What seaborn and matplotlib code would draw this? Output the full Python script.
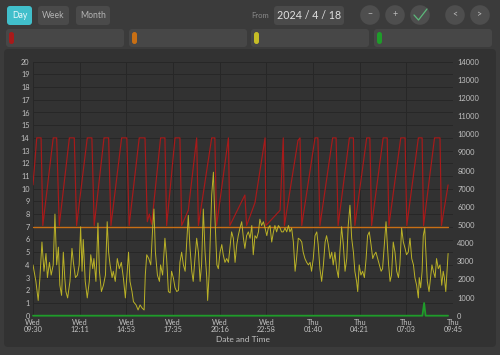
"""Day view of four sensor channels, dark dashboard style."""

import pandas as pd
import matplotlib.pyplot as plt
import seaborn as sns
from matplotlib.patches import FancyBboxPatch, Circle
from matplotlib.lines import Line2D
from matplotlib.transforms import IdentityTransform

# ── DATA ──────────────────────────────────────────────────────────────────────

START = pd.Timestamp("2024-04-17 09:30")
END = pd.Timestamp("2024-04-18 09:45")

# red channel (left axis), minutes after START
red_min = [0, 13, 28, 34, 70, 82, 91, 126, 143, 151, 188, 204, 212,
           246, 262, 270, 307, 325, 333, 368, 388, 396, 403, 411,
           442, 457, 463, 492, 509, 515, 538, 567, 573, 619, 630, 636,
           677, 682, 734, 740, 769, 804, 807, 856, 867, 871, 918, 925, 931,
           977, 987, 994, 1038, 1050, 1057, 1096, 1110, 1115,
           1156, 1167, 1173, 1213, 1227, 1233, 1274, 1289, 1295,
           1335, 1348, 1353, 1391, 1410, 1415, 1438]
red_val = [10.3, 14, 14, 7.1, 14, 14, 7.1, 14, 14, 7.1, 14, 14, 7.1,
           14, 14, 7.1, 14, 14, 7.1, 14, 14, 7.4, 8.0, 7.2,
           14, 14, 7.1, 14, 14, 7.1, 8.3, 14, 7.1, 14, 14, 7.1,
           14, 7.1, 9.5, 7.1, 8.9, 14, 7.1, 8.3, 14, 7.1, 13.8, 14, 7.1,
           14, 14, 7.1, 14, 14, 7.1, 14, 14, 7.1,
           14, 14, 7.1, 14, 14, 7.1, 14, 14, 7.1,
           14, 14, 7.1, 14, 14, 7.1, 10.3]

# yellow channel (left axis)
yel_min = [0, 10, 18, 24, 31, 38, 45, 50, 57, 63, 70, 76, 82, 88, 93, 99,
           105, 110, 114, 120, 128, 135, 140, 147, 154, 160, 165, 170, 174,
           181, 188, 195, 200, 207, 211, 218, 225, 230, 237, 244, 251, 257,
           262, 267, 274, 278, 285, 292, 299, 306, 313, 320, 327, 331, 336,
           343, 348, 357, 364, 371, 378, 385, 389, 394, 401, 408, 415, 419,
           424, 431, 438, 442, 449, 457, 463, 469, 475, 480, 486, 492, 498,
           504, 509, 515, 521, 527, 532, 538, 544, 550, 555, 561, 567, 573,
           579, 584, 590, 596, 602, 605, 610, 614, 619, 625, 628, 633, 637,
           642, 648, 654, 659, 665, 671, 677, 682, 688, 694, 700, 706, 711,
           717, 723, 729, 734, 740, 746, 752, 758, 763, 769, 775, 781, 786,
           792, 798, 804, 810, 815, 821, 827, 833, 838, 844, 850, 856, 861,
           867, 873, 879, 885, 890, 896, 902, 908, 913, 919, 925, 931, 936,
           942, 948, 954, 960, 965, 971, 977, 983, 988, 994, 1000, 1006, 1012,
           1017, 1023, 1029, 1035, 1040, 1046, 1052, 1058, 1063, 1069, 1075,
           1081, 1087, 1092, 1098, 1104, 1110, 1115, 1121, 1125, 1130, 1136,
           1142, 1148, 1154, 1159, 1165, 1171, 1177, 1182, 1188, 1194, 1200,
           1206, 1211, 1217, 1223, 1227, 1232, 1237, 1242, 1248, 1254, 1260,
           1266, 1271, 1277, 1283, 1289, 1294, 1300, 1306, 1312, 1318, 1323,
           1329, 1335, 1338, 1343, 1348, 1352, 1357, 1361, 1366, 1372, 1378,
           1382, 1387, 1393, 1398, 1404, 1410, 1416, 1421, 1425, 1430, 1438]
yel_val = [4.0, 2.7, 1.2, 3.0, 5.8, 3.5, 4.9, 3.0, 4.2, 3.2, 4.0, 8.0, 4.0,
           5.4, 2.4, 1.6, 5.0, 3.0, 1.9, 1.4, 2.7, 5.3, 4.2, 3.0, 3.2, 4.0,
           7.0, 3.5, 6.0, 2.7, 1.4, 2.7, 4.8, 3.7, 4.5, 2.7, 7.3, 3.5, 1.9,
           2.4, 3.2, 7.4, 5.0, 4.0, 3.0, 3.5, 2.7, 4.5, 3.7, 4.2, 3.0, 1.4,
           3.7, 5.0, 2.7, 1.9, 1.1, 0.85, 0.45, 0.85, 0.6, 0.45, 3.2, 4.8,
           4.5, 4.0, 7.1, 8.4, 5.0, 3.2, 2.7, 4.0, 3.2, 6.1, 4.5, 1.9, 1.8,
           3.5, 3.0, 2.2, 1.9, 2.0, 4.2, 5.0, 4.0, 3.5, 5.6, 7.9, 5.3, 3.5,
           2.7, 4.5, 6.1, 5.0, 2.7, 4.0, 8.4, 5.0, 3.0, 1.2, 3.2, 6.1, 9.5,
           11.3, 9.0, 6.3, 4.0, 3.7, 5.0, 5.6, 4.8, 4.2, 4.5, 4.2, 5.3, 6.6,
           6.1, 4.2, 5.6, 6.3, 6.9, 7.4, 6.1, 5.3, 6.3, 6.6, 6.1, 7.1, 4.8,
           6.3, 6.1, 6.6, 7.6, 7.1, 7.4, 6.9, 6.3, 6.9, 7.1, 5.8, 6.6, 7.1,
           6.6, 7.1, 6.9, 6.6, 6.6, 6.9, 6.6, 7.1, 6.6, 6.9, 5.8, 3.5, 4.5,
           6.1, 6.0, 5.8, 5.0, 4.5, 4.2, 4.0, 4.2, 3.5, 4.5, 6.3, 6.6, 5.6,
           3.7, 2.7, 4.0, 5.8, 6.3, 5.6, 4.5, 5.0, 4.0, 5.0, 3.7, 3.0, 5.0,
           7.0, 5.6, 3.5, 4.5, 7.1, 8.7, 6.1, 5.0, 3.5, 2.7, 1.9, 4.0, 3.2,
           3.5, 3.0, 4.5, 6.3, 6.6, 5.6, 4.5, 4.8, 5.0, 4.5, 4.0, 3.5, 3.7,
           5.6, 7.4, 5.8, 4.0, 2.7, 3.2, 5.8, 5.0, 3.5, 3.0, 4.0, 6.9, 5.8,
           5.3, 4.8, 5.0, 6.1, 4.5, 4.0, 3.0, 2.4, 1.4, 3.0, 2.2, 3.5, 6.3,
           6.9, 5.0, 2.7, 1.9, 3.2, 4.0, 3.5, 3.0, 4.5, 3.7, 4.0, 2.4, 3.5,
           3.0, 1.9, 4.9]

# orange channel: flat
org_min = [0, 1438]
org_val = [6.95, 6.95]

# green channel: flat with one short pulse
grn_min = [0, 1349, 1355, 1360, 1438]
grn_val = [0, 0, 1.0, 0, 0]

left_ticks = list(range(0, 21))
right_ticks = list(range(0, 14001, 1000))
buttons = ["Day", "Week", "Month"]
date_text = "2024 / 4 / 18"

# ── STYLE ─────────────────────────────────────────────────────────────────────

W, H = 500, 355
BG = '#3b3b3b'
PANEL = '#323232'
BOX = '#474747'
TEXT = '#c2c2c2'
GRID = '#272727'
RED, ORANGE, YELLOW, GREEN = '#a81a1a', '#c86f14', '#c6bd26', '#1f9c2a'

sns.set_theme(style='dark')
plt.rcParams['font.family'] = ['Lato', 'DejaVu Sans']


def px_rect(fig, x0, y0, x1, y1, color, r=3, z=0):
    """Rounded box in pixels, measured from the top-left corner."""
    fig.add_artist(FancyBboxPatch(
        (x0, H - y1), x1 - x0, y1 - y0,
        boxstyle=f'round,pad=0,rounding_size={r}',
        transform=IdentityTransform(), fc=color, ec='none', zorder=z))


def px_text(fig, x, y, s, **kw):
    fig.text(x / W, 1 - y / H, s, ha='center', va='center', **kw)


def to_times(mins):
    return START + pd.to_timedelta(mins, unit='min')


# ── FIGURE ────────────────────────────────────────────────────────────────────

fig = plt.figure(figsize=(W / 100, H / 100), dpi=100, facecolor=BG)

# top controls
btn_x = [(7, 32), (38, 69), (76, 110)]
for name, (x0, x1) in zip(buttons, btn_x):
    active = name == 'Day'
    px_rect(fig, x0, 6, x1, 25, '#41bfcb' if active else '#4a4a4a')
    px_text(fig, (x0 + x1) / 2, 15.5, name, fontsize=6.2,
            color='#e8f8fa' if active else '#b4b4b4')

px_text(fig, 260, 15.5, 'From', fontsize=5.5, color='#8a8a8a')
px_rect(fig, 274, 6, 344, 25, '#4a4a4a')
px_text(fig, 309, 15.5, date_text, fontsize=7.7, color='#e0e0e0')

for cx, glyph in zip([370, 395, 420, 455, 480], ['−', '+', '', '<', '>']):
    fig.add_artist(Circle((cx, H - 15), 9.8, transform=IdentityTransform(),
                          fc='#4e4e4e', ec='none'))
    if glyph:
        px_text(fig, cx, 15, glyph, fontsize=6.3, color='#bdbdbd')
fig.add_artist(Line2D([414, 418.5, 427], [H - 15, H - 20, H - 9],
                      transform=IdentityTransform(), color='#5cb87a', lw=0.9))

# legend strip
for (x0, x1), col in zip([(6, 124), (129, 247), (251, 369), (374, 492)],
                         [RED, ORANGE, YELLOW, GREEN]):
    px_rect(fig, x0, 29, x1, 47, BOX)
    px_rect(fig, x0 + 3, 32, x0 + 8, 44, col, r=2.5)

# chart panel
px_rect(fig, 4, 49, 496, 347, PANEL, r=4, z=-1)

ax = fig.add_axes([33 / W, 1 - 315.7 / H, 420 / W, 254 / H])
ax.set_facecolor(PANEL)

sns.lineplot(x=to_times(red_min), y=red_val, ax=ax, color=RED, lw=0.85)
sns.lineplot(x=to_times(org_min), y=org_val, ax=ax, color=ORANGE, lw=1.0)
sns.lineplot(x=to_times(yel_min), y=yel_val, ax=ax, color=YELLOW, lw=0.7,
             alpha=0.92)
sns.lineplot(x=to_times(grn_min), y=grn_val, ax=ax, color=GREEN, lw=1.3)
ax.lines[-1].set_clip_on(False)

tick_times = pd.date_range(START, END, periods=10)
ax.set_xlim(START, END)
ax.set_xticks(tick_times)
ax.set_xticklabels([t.strftime('%a\n%H:%M') for t in tick_times],
                   linespacing=1.05)
ax.set_ylim(0, 20)
ax.set_yticks(left_ticks)
ax.set_xlabel('Date and Time', fontsize=6, color=TEXT, labelpad=2)
ax.set_ylabel('')
ax.tick_params(axis='both', length=0, labelsize=5.3, colors=TEXT, pad=2.5)
ax.grid(True, color=GRID, lw=0.7)
for s in ax.spines.values():
    s.set_visible(False)

ax2 = ax.twinx()
ax2.set_ylim(0, 14000)
ax2.set_yticks(right_ticks)
ax2.set_yticklabels([str(v) for v in right_ticks])
ax2.tick_params(axis='y', length=0, labelsize=5.4, colors=TEXT, pad=3)
ax2.grid(False)
for s in ax2.spines.values():
    s.set_visible(False)

fig.savefig('out.png', dpi=100, facecolor=BG)
